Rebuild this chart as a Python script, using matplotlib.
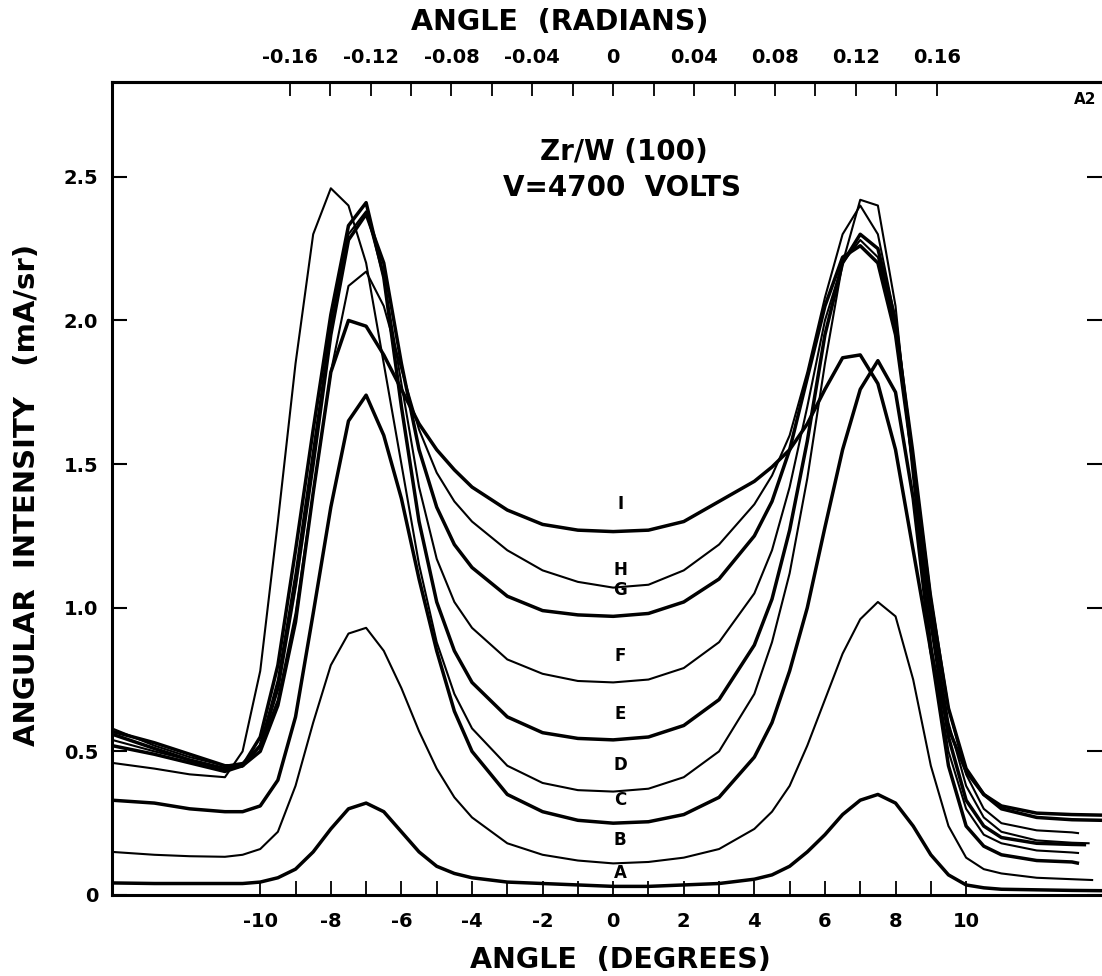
import numpy as np
import matplotlib
matplotlib.use("Agg")
import matplotlib.pyplot as plt

# ---------------- data (angle in degrees, intensity in mA/sr) ----------------
X = [-14.2, -13, -12, -11, -10.5, -10, -9.5, -9, -8.5, -8, -7.5, -7, -6.5, -6,
     -5.5, -5, -4.5, -4, -3, -2, -1, 0, 1, 2, 3, 4, 4.5, 5, 5.5, 6, 6.5, 7,
     7.5, 8, 8.5, 9, 9.5, 10, 10.5, 11, 12, 13]

A = [0.042, 0.04, 0.04, 0.04, 0.04, 0.045, 0.06, 0.09, 0.15, 0.23, 0.30, 0.32,
     0.29, 0.22, 0.15, 0.10, 0.075, 0.06, 0.045, 0.04, 0.035, 0.03, 0.03, 0.035,
     0.04, 0.055, 0.07, 0.10, 0.15, 0.21, 0.28, 0.33, 0.35, 0.32, 0.24, 0.14,
     0.07, 0.035, 0.025, 0.02, 0.018, 0.016]
B = [0.15, 0.14, 0.135, 0.133, 0.14, 0.16, 0.22, 0.38, 0.60, 0.80, 0.91, 0.93,
     0.85, 0.72, 0.57, 0.44, 0.34, 0.27, 0.18, 0.14, 0.12, 0.11, 0.115, 0.13,
     0.16, 0.23, 0.29, 0.38, 0.52, 0.68, 0.84, 0.96, 1.02, 0.97, 0.75, 0.45,
     0.24, 0.13, 0.09, 0.075, 0.06, 0.055]
C = [0.33, 0.32, 0.30, 0.29, 0.29, 0.31, 0.40, 0.62, 0.98, 1.35, 1.65, 1.74,
     1.60, 1.38, 1.10, 0.85, 0.64, 0.50, 0.35, 0.29, 0.26, 0.25, 0.255, 0.28,
     0.34, 0.48, 0.60, 0.78, 1.00, 1.28, 1.55, 1.76, 1.86, 1.75, 1.38, 0.85,
     0.45, 0.24, 0.17, 0.14, 0.12, 0.115]
D = [0.46, 0.44, 0.42, 0.41, 0.50, 0.78, 1.30, 1.85, 2.30, 2.46, 2.40, 2.20,
     1.85, 1.50, 1.15, 0.88, 0.70, 0.58, 0.45, 0.39, 0.365, 0.36, 0.37, 0.41,
     0.50, 0.70, 0.88, 1.12, 1.45, 1.85, 2.20, 2.42, 2.40, 2.05, 1.45, 0.88,
     0.50, 0.30, 0.21, 0.18, 0.155, 0.148]
E = [0.52, 0.49, 0.46, 0.43, 0.45, 0.55, 0.80, 1.20, 1.62, 2.02, 2.33, 2.41,
     2.15, 1.70, 1.30, 1.02, 0.85, 0.74, 0.62, 0.565, 0.545, 0.54, 0.55, 0.59,
     0.68, 0.87, 1.03, 1.27, 1.58, 1.95, 2.20, 2.30, 2.25, 2.00, 1.50, 0.95,
     0.55, 0.33, 0.24, 0.20, 0.18, 0.176]
F = [0.54, 0.50, 0.47, 0.44, 0.45, 0.52, 0.75, 1.12, 1.55, 1.98, 2.30, 2.38,
     2.15, 1.78, 1.42, 1.17, 1.02, 0.93, 0.82, 0.77, 0.745, 0.74, 0.75, 0.79,
     0.88, 1.05, 1.20, 1.42, 1.70, 2.00, 2.20, 2.28, 2.22, 1.98, 1.50, 0.98,
     0.60, 0.38, 0.27, 0.22, 0.19, 0.182]
G = [0.56, 0.51, 0.47, 0.44, 0.45, 0.52, 0.72, 1.08, 1.50, 1.95, 2.28, 2.37,
     2.20, 1.85, 1.55, 1.35, 1.22, 1.14, 1.04, 0.99, 0.975, 0.97, 0.98, 1.02,
     1.10, 1.25, 1.37, 1.55, 1.80, 2.05, 2.22, 2.26, 2.20, 1.95, 1.50, 1.02,
     0.65, 0.44, 0.35, 0.30, 0.27, 0.262]
H = [0.58, 0.52, 0.48, 0.45, 0.46, 0.52, 0.68, 0.98, 1.40, 1.82, 2.12, 2.17,
     2.05, 1.83, 1.62, 1.47, 1.37, 1.30, 1.20, 1.13, 1.09, 1.07, 1.08, 1.13,
     1.22, 1.36, 1.46, 1.60, 1.82, 2.08, 2.30, 2.40, 2.30, 2.00, 1.55, 1.05,
     0.65, 0.42, 0.30, 0.25, 0.225, 0.218]
I = [0.57, 0.53, 0.49, 0.45, 0.45, 0.50, 0.66, 0.95, 1.40, 1.82, 2.00, 1.98,
     1.88, 1.76, 1.64, 1.55, 1.48, 1.42, 1.34, 1.29, 1.27, 1.265, 1.27, 1.30,
     1.37, 1.44, 1.49, 1.55, 1.64, 1.76, 1.87, 1.88, 1.78, 1.55, 1.20, 0.85,
     0.58, 0.43, 0.35, 0.31, 0.285, 0.28]

# right-hand end point of each trace (x, y)
END_X = [13.85, 13.6, 13.2, 13.2, 13.4, 13.5, 13.85, 13.2, 13.85]
END_Y = [0.015, 0.052, 0.11, 0.146, 0.175, 0.18, 0.26, 0.215, 0.278]

NAMES = ["A", "B", "C", "D", "E", "F", "G", "H", "I"]
SERIES = [A, B, C, D, E, F, G, H, I]
THICK = [True, False, True, False, True, False, True, False, True]
LABEL_Y = [0.045, 0.16, 0.30, 0.42, 0.60, 0.80, 1.03, 1.10, 1.33]

Y_TICKS = [0, 0.5, 1.0, 1.5, 2.0, 2.5]
Y_TICK_LABELS = ["0", "0.5", "1.0", "1.5", "2.0", "2.5"]
X_TICKS = list(range(-10, 11))
X_LABELED = [-10, -8, -6, -4, -2, 0, 2, 4, 6, 8, 10]
RAD_TICKS = [round(-0.16 + 0.02 * i, 2) for i in range(17)]
RAD_LABELS = {-0.16: "-0.16", -0.12: "-0.12", -0.08: "-0.08", -0.04: "-0.04",
              0.0: "0", 0.04: "0.04", 0.08: "0.08", 0.12: "0.12", 0.16: "0.16"}

# ---------------- figure ----------------
plt.rcParams['font.family'] = ['DejaVu Sans']
W, Hpx = 1102, 976
fig = plt.figure(figsize=(W / 100, Hpx / 100), dpi=100)
ax = fig.add_axes([112 / W, (Hpx - 895) / Hpx, (W - 112) / W, (895 - 82) / Hpx])

for name, ys, thick, ex, ey in zip(NAMES, SERIES, THICK, END_X, END_Y):
    xs = list(X) + [ex]
    yy = list(ys) + [ey]
    ax.plot(xs, yy, color='black', lw=2.5 if thick else 1.5,
            solid_joinstyle='round', solid_capstyle='butt')

for name, ly in zip(NAMES, LABEL_Y):
    ax.text(0.2, ly, name, fontsize=12, ha='center', va='bottom',
            fontweight='bold')

ax.set_xlim(-14.2, 13.85)
ax.set_ylim(0, 2.83)

# bottom axis (degrees)
ax.set_xticks(X_TICKS)
ax.set_xticklabels([str(t) if t in X_LABELED else "" for t in X_TICKS],
                   fontweight='bold')
ax.tick_params(axis='x', direction='in', length=10, width=1.3, pad=12,
               labelsize=14, bottom=True, top=False)

# y axis
ax.set_yticks(Y_TICKS)
ax.set_yticklabels(Y_TICK_LABELS, fontweight='bold')
ax.tick_params(axis='y', direction='in', length=11, width=1.5, pad=10,
               labelsize=14, left=True, right=True)

for s in ['left', 'bottom', 'top']:
    ax.spines[s].set_linewidth(2.2)
ax.spines['right'].set_visible(False)

# top axis (radians)
sec = ax.secondary_xaxis('top', functions=(np.deg2rad, np.rad2deg))
sec.set_xticks(RAD_TICKS)
sec.set_xticklabels([RAD_LABELS.get(t, "") for t in RAD_TICKS],
                    fontweight='bold')
sec.set_xticks([0.0], minor=True)
sec.tick_params(axis='x', which='major', direction='in', length=10, width=1.3,
                pad=11, labelsize=14)
sec.tick_params(axis='x', which='minor', direction='in', length=19, width=1.3)
sec.spines['top'].set_linewidth(2.2)

# annotations
fig.text(624 / W, 1 - 152 / Hpx, "Zr/W (100)", fontsize=20, ha='center',
         va='center', fontweight='bold')
fig.text(622 / W, 1 - 188 / Hpx, "V=4700  VOLTS", fontsize=20, ha='center',
         va='center', fontweight='bold')
fig.text(1085 / W, 1 - 100 / Hpx, "A2", fontsize=11, ha='center',
         va='center', fontweight='bold')

fig.text(560 / W, 1 - 22 / Hpx, "ANGLE  (RADIANS)", fontsize=20.5, ha='center',
         va='center', fontweight='bold')
fig.text(620 / W, 1 - 960 / Hpx, "ANGLE  (DEGREES)", fontsize=20.5, ha='center',
         va='center', fontweight='bold')
fig.text(27 / W, 1 - 495 / Hpx, "ANGULAR  INTENSITY   (mA/sr)", fontsize=21,
         ha='center', va='center', rotation=90, fontweight='bold')

fig.savefig("out.png", dpi=100)
